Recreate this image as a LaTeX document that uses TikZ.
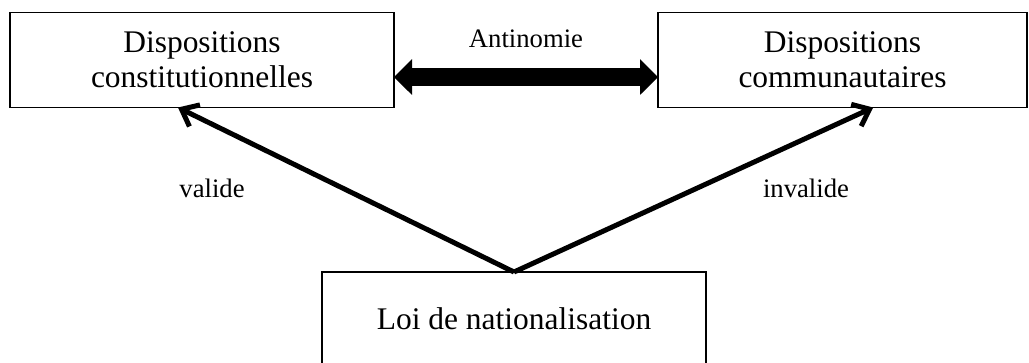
\documentclass[tikz,border=0pt]{standalone}
\usepackage{fontspec}
\setmainfont{Liberation Serif}
\usetikzlibrary{arrows.meta,positioning,calc}
\tikzset{
  box/.style={draw=black, line width=1.1pt, inner sep=0pt, outer sep=0pt, align=center,
    font=\fontsize{23.6}{26.3}\selectfont},
  lbl/.style={font=\fontsize{20}{24}\selectfont, inner sep=0pt},
  bigarrow/.style={{Triangle[length=13.5pt,width=26pt]}-{Triangle[length=13.5pt,width=26pt]}, line width=13pt},
  arrow/.style={-{Straight Barb[length=11pt,width=18pt]}, line width=3.75pt},
}
\begin{document}
\begin{tikzpicture}[x=0.75pt,y=-0.75pt]
  \useasboundingbox (0,0) rectangle (1029,362);
  \clip (0,0) rectangle (1029,362);
  % boxes
  \node[box, minimum width=288pt, minimum height=71.25pt] (dc) at (202,60) {Dispositions\\constitutionnelles};
  \node[box, minimum width=276.75pt, minimum height=71.25pt] (dm) at (842.5,60) {Dispositions\\communautaires};
  \node[box, minimum width=288pt, minimum height=96pt, text depth=26pt] (loi) at (514,336) {Loi de nationalisation};
  % labels
  \node[lbl] (ant) at (526,39) {Antinomie};
  \node[lbl] (val) at (212,188) {valide};
  \node[lbl] (inv) at (806,188) {invalide};
  % arrows
  \coordinate (a) at ($(dc.north east)!0.68!(dc.south east)$);
  \draw[bigarrow] (a) -- (a -| dm.west);
  \draw[arrow] (loi.north) -- ($(dc.south west)!0.4375!(dc.south east)$);
  \draw[arrow] (loi.north) -- ($(dm.south west)!0.583!(dm.south east)$);
\end{tikzpicture}
\end{document}
